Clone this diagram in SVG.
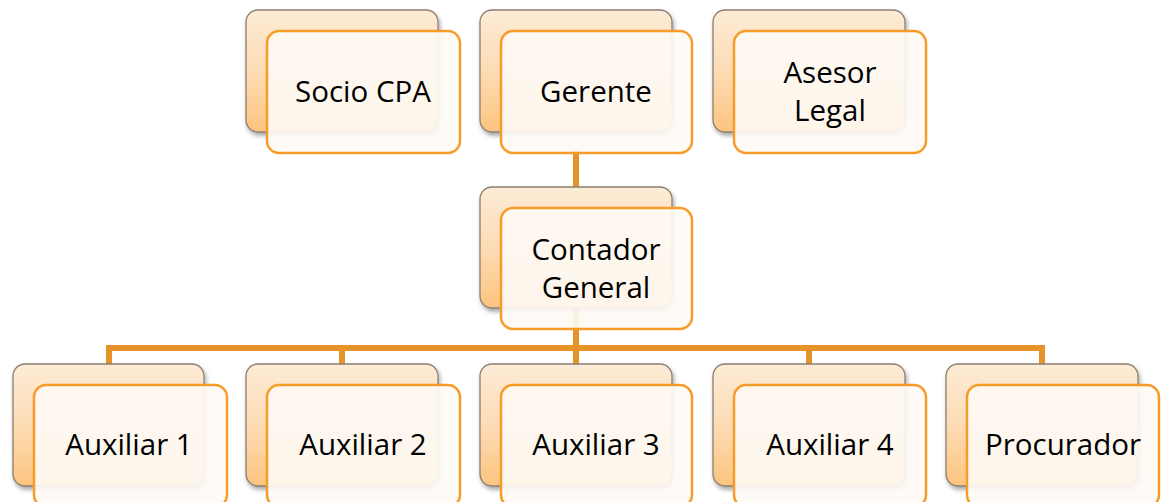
<svg xmlns="http://www.w3.org/2000/svg" width="1165" height="502" viewBox="0 0 1165 502">
<defs>
<linearGradient id="bg" x1="0" y1="0" x2="0" y2="1">
<stop offset="0" stop-color="#fdebd6"/>
<stop offset="0.5" stop-color="#fddcb5"/>
<stop offset="1" stop-color="#fcc47f"/>
</linearGradient>
<filter id="sh" x="-10%" y="-10%" width="125%" height="130%">
<feDropShadow dx="1.5" dy="3" stdDeviation="2" flood-color="#000" flood-opacity="0.35"/>
</filter>
</defs>
<style>
.back{fill:url(#bg);stroke:#8c7f72;stroke-width:1.3;filter:url(#sh)}
.front{fill:#fefaf4;fill-opacity:0.92;stroke:#f79c28;stroke-width:2.5}
.lbl{font-family:"Open Sans","Noto Sans","Liberation Sans",sans-serif;font-size:29.5px;fill:#000;text-anchor:middle}
.conn{stroke:#e6942a;stroke-width:6;fill:none}
</style>
<rect width="1165" height="502" fill="#fff"/>
<g id="connectors">
<line class="conn" x1="576" y1="150" x2="576" y2="366"/>
<polyline class="conn" points="109,368 109,348 1042,348 1042,368"/>
<line class="conn" x1="342" y1="348" x2="342" y2="368"/>
<line class="conn" x1="809" y1="348" x2="809" y2="368"/>
</g>
<g id="socio-cpa">
<rect class="back" x="246" y="10" width="192" height="122" rx="12"/>
<rect class="front" x="267" y="31" width="193" height="122" rx="12"/>
<text class="lbl" x="363" y="102">Socio CPA</text>
</g>
<g id="gerente">
<rect class="back" x="480" y="10" width="192" height="122" rx="12"/>
<rect class="front" x="501" y="31" width="191" height="122" rx="12"/>
<text class="lbl" x="596" y="102">Gerente</text>
</g>
<g id="asesor-legal">
<rect class="back" x="713" y="10" width="192" height="122" rx="12"/>
<rect class="front" x="734" y="31" width="192" height="122" rx="12"/>
<text class="lbl" x="830" y="83">Asesor</text>
<text class="lbl" x="830" y="121">Legal</text>
</g>
<g id="contador-general">
<rect class="back" x="480" y="187" width="192" height="121" rx="12"/>
<rect class="front" x="501" y="208" width="191" height="121" rx="12"/>
<text class="lbl" x="596" y="260">Contador</text>
<text class="lbl" x="596" y="298">General</text>
</g>
<g id="auxiliar-1">
<rect class="back" x="13" y="364" width="191" height="122" rx="12"/>
<rect class="front" x="34" y="385" width="193" height="122" rx="12"/>
<text class="lbl" x="129" y="455">Auxiliar 1</text>
</g>
<g id="auxiliar-2">
<rect class="back" x="246" y="364" width="192" height="122" rx="12"/>
<rect class="front" x="267" y="385" width="193" height="122" rx="12"/>
<text class="lbl" x="363" y="455">Auxiliar 2</text>
</g>
<g id="auxiliar-3">
<rect class="back" x="480" y="364" width="192" height="122" rx="12"/>
<rect class="front" x="501" y="385" width="191" height="122" rx="12"/>
<text class="lbl" x="596" y="455">Auxiliar 3</text>
</g>
<g id="auxiliar-4">
<rect class="back" x="713" y="364" width="192" height="122" rx="12"/>
<rect class="front" x="734" y="385" width="192" height="122" rx="12"/>
<text class="lbl" x="830" y="455">Auxiliar 4</text>
</g>
<g id="procurador">
<rect class="back" x="946" y="364" width="192" height="122" rx="12"/>
<rect class="front" x="967" y="385" width="192" height="122" rx="12"/>
<text class="lbl" x="1063" y="455">Procurador</text>
</g>
</svg>
